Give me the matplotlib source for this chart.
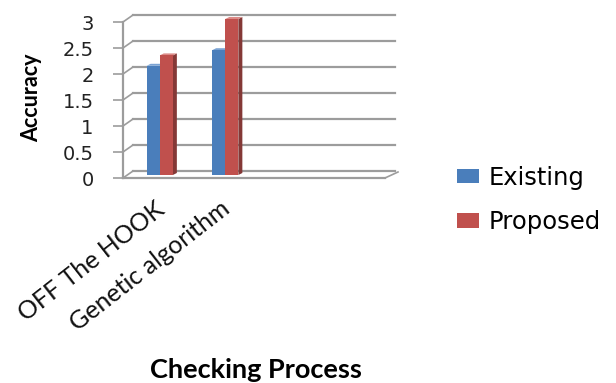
import matplotlib.pyplot as plt
from matplotlib.patches import Polygon, Patch
from matplotlib.transforms import offset_copy, IdentityTransform

# data
categories = ["OFF The HOOK", "Genetic algorithm"]
existing = [2.1, 2.4]
proposed = [2.3, 3.0]
series_names = ["Existing", "Proposed"]
yticks = [0, 0.5, 1, 1.5, 2, 2.5, 3]
ytick_labels = ["0", "0.5", "1", "1.5", "2", "2.5", "3"]

# colours: front, side, top
blue = ("#4a7ebb", "#2f5582", "#7ba3d3")
red = ("#c0504d", "#843836", "#dc8a87")
grid_col = "#9c9c9c"

fig = plt.figure(figsize=(6.16, 3.83), dpi=100)
# front plane of the 3D box
ax = fig.add_axes([123 / 616, 1 - 178 / 383, 262 / 616, 156 / 383])
ax.set_xlim(-0.5, 3.5)
ax.set_ylim(0, 3)
ax.patch.set_visible(False)
for s in ["top", "right", "bottom"]:
    ax.spines[s].set_visible(False)
ax.spines["left"].set_color(grid_col)
ax.spines["left"].set_linewidth(1.6)
ax.set_xticks([])
ax.set_yticks(yticks)
ax.set_yticklabels(ytick_labels, fontsize=14, color="#222222")
ax.tick_params(axis="y", length=7.2, width=1.2, color=grid_col, pad=14)

# pixel offsets for the back wall and the plane the bars stand in
BACK = (10, 7)
BAR = (4, 3)
DEPTH = (4, 2)
back_tr = offset_copy(ax.transData, fig=fig, x=BACK[0], y=BACK[1], units="dots")

x0, x1 = ax.get_xlim()
# back wall gridlines and left wall diagonals
for t in yticks:
    ax.plot([x0, x1], [t, t], color=grid_col, lw=1.6, transform=back_tr,
            clip_on=False, zorder=1)
    p0 = ax.transData.transform((x0, t))
    ax.plot([p0[0], p0[0] + BACK[0]], [p0[1], p0[1] + BACK[1]], color=grid_col,
            lw=1.2, transform=IdentityTransform(), clip_on=False, zorder=1)

# floor: front edge and right diagonal
ax.plot([x0, x1], [0, 0], color=grid_col, lw=1.6, clip_on=False, zorder=1)
pr = ax.transData.transform((x1, 0))
ax.plot([pr[0], pr[0] + BACK[0] + 3], [pr[1], pr[1] + BACK[1] - 1], color=grid_col,
        lw=1.2, transform=IdentityTransform(), clip_on=False, zorder=1)


def px(x, y, dx=0, dy=0):
    p = ax.transData.transform((x, y))
    return (p[0] + dx, p[1] + dy)


def bar3d(left, width, value, cols):
    right = left + width
    front = [px(left, 0, *BAR), px(right, 0, *BAR), px(right, value, *BAR), px(left, value, *BAR)]
    bx, by = BAR[0] + DEPTH[0], BAR[1] + DEPTH[1]
    side = [px(right, 0, *BAR), px(right, 0, bx, by), px(right, value, bx, by), px(right, value, *BAR)]
    top = [px(left, value, *BAR), px(right, value, *BAR), px(right, value, bx, by), px(left, value, bx, by)]
    for pts, c in [(side, cols[1]), (top, cols[2]), (front, cols[0])]:
        ax.add_patch(Polygon(pts, closed=True, facecolor=c, edgecolor="none",
                             transform=IdentityTransform(), clip_on=False, zorder=3))


w = 0.2
for i in range(len(categories)):
    bar3d(i - w, w, existing[i], blue)
    bar3d(i, w, proposed[i], red)

# category labels
lab_tr = offset_copy(ax.transData, fig=fig, x=-1, y=-19, units="dots")
for i, name in enumerate(categories):
    ax.text(i, 0, name, transform=lab_tr, rotation=38, rotation_mode="anchor",
            ha="right", va="top", fontsize=18, family="Lato", color="#111111")

fig.text(32 / 616, 1 - 98 / 383, "Accuracy", rotation=90, ha="center", va="center",
         fontsize=15.5, fontweight="bold", family="Lato")
fig.text(256 / 616, 1 - 378 / 383, "Checking Process", ha="center", va="baseline",
         fontsize=19.5, fontweight="bold", family="Lato")

handles = [Patch(facecolor=blue[0]), Patch(facecolor=red[0])]
fig.legend(handles, series_names, loc="center left", bbox_to_anchor=(457 / 616, 1 - 200 / 383),
           frameon=False, fontsize=17.5, handlelength=0.9, handleheight=0.55,
           handletextpad=0.4, labelspacing=0.85, borderpad=0, borderaxespad=0)

fig.savefig("out.png", dpi=100)
